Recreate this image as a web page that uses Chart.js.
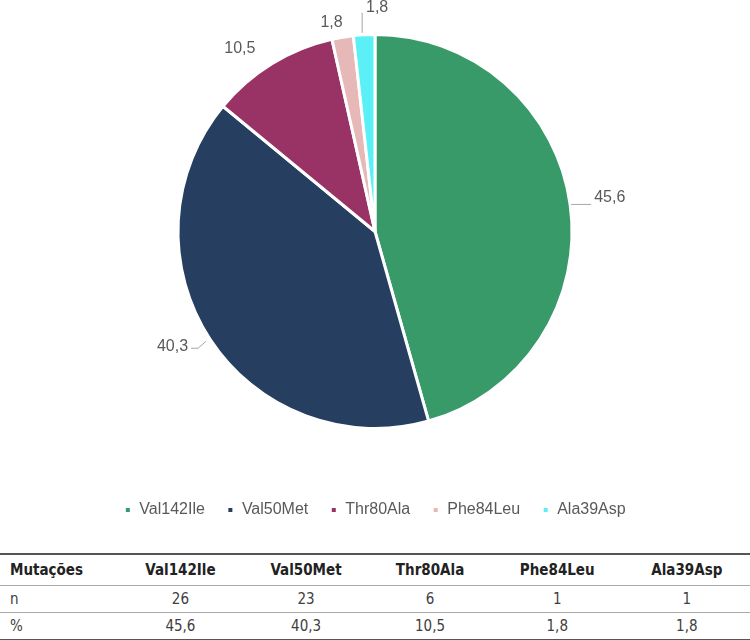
<!DOCTYPE html>
<html>
<head>
<meta charset="utf-8">
<script src="https://cdn.jsdelivr.net/npm/chart.js@4.4.1/dist/chart.umd.min.js"></script>
<style>
    html, body { margin: 0; padding: 0; background: #fff; }
    #wrap { width: 750px; height: 550px; position: relative; }
    table {
        width: 750px;
        border-collapse: collapse;
        margin-top: 3px;
        font-family: "Liberation Sans Narrow", "DejaVu Sans Condensed", "Liberation Sans", sans-serif;
        font-stretch: condensed;
        font-size: 15px;
        color: #404040;
    }
    table tr { border-bottom: 1px solid #aaa; }
    table tr:first-child { border-top: 2px solid #555; }
    table tr:last-child { border-bottom: 2px solid #555; }
    th { font-weight: bold; color: #222; height: 30px; padding: 0; text-align: center; }
    td { height: 26px; padding: 0; text-align: center; }
    th:first-child, td:first-child { text-align: left; padding-left: 10px; width: 108px; }
</style>
</head>
<body>
<div id="wrap"><canvas id="pieChart"></canvas></div>
<table id="dataTable"></table>

<script>
// Andmed
const mutations = ['Val142Ile', 'Val50Met', 'Thr80Ala', 'Phe84Leu', 'Ala39Asp'];
const counts = [26, 23, 6, 1, 1];
const percents = ['45,6', '40,3', '10,5', '1,8', '1,8'];
const sliceColors = ['#389a68', '#263e5f', '#993366', '#e6b9b8', '#5af0f5'];

// Label offsets relative to the slice's outer edge (style only)
const labelStyle = [
    { dx: 24, dy: -7, align: 'left', line: [[1, 0], [21, 0]] },
    { dx: -22, dy: 7, align: 'right', line: [[-4, 2], [-12, 9], [-19, 9]] },
    { dx: -32, dy: -15, align: 'center', line: null },
    { dx: -11, dy: -15, align: 'center', line: null },
    { dx: 13, dy: -27, align: 'center', line: [[-2, -2], [-2, -22]] },
];

// Plugin for outside labels with leader lines
const outsideLabels = {
    id: 'outsideLabels',
    afterDatasetsDraw(chart) {
        const ctx = chart.ctx;
        const meta = chart.getDatasetMeta(0);
        ctx.save();
        ctx.font = '16px "Liberation Sans", Arial, sans-serif';
        ctx.fillStyle = '#595959';
        ctx.strokeStyle = '#a6a6a6';
        ctx.lineWidth = 1;
        meta.data.forEach((arc, i) => {
            const p = arc.getProps(['x', 'y', 'startAngle', 'endAngle', 'outerRadius'], true);
            const mid = (p.startAngle + p.endAngle) / 2;
            const ex = p.x + Math.cos(mid) * p.outerRadius;
            const ey = p.y + Math.sin(mid) * p.outerRadius;
            const s = labelStyle[i];
            if (s.line) {
                ctx.beginPath();
                s.line.forEach((pt, j) => {
                    if (j === 0) ctx.moveTo(ex + pt[0], ey + pt[1]);
                    else ctx.lineTo(ex + pt[0], ey + pt[1]);
                });
                ctx.stroke();
            }
            ctx.textAlign = s.align;
            ctx.textBaseline = 'middle';
            ctx.fillText(percents[i], ex + s.dx, ey + s.dy);
        });
        ctx.restore();
    }
};

const ctx = document.getElementById('pieChart').getContext('2d');
new Chart(ctx, {
    type: 'pie',
    data: {
        labels: mutations,
        datasets: [{
            data: counts,
            backgroundColor: sliceColors,
            borderColor: '#ffffff',
            borderWidth: 3,
            hoverOffset: 0,
        }],
    },
    options: {
        responsive: true,
        maintainAspectRatio: false,
        animation: false,
        layout: { padding: { top: 33, bottom: 22 } },
        plugins: {
            legend: {
                position: 'bottom',
                title: { display: true, text: ' ', font: { size: 10 }, padding: { top: 0, bottom: 38 } },
                labels: {
                    usePointStyle: true,
                    pointStyle: 'rect',
                    boxWidth: 7,
                    boxHeight: 7,
                    padding: 22,
                    color: '#595959',
                    font: { size: 16, family: '"Liberation Sans", Arial, sans-serif' },
                },
            },
            tooltip: { enabled: false },
        },
    },
    plugins: [outsideLabels],
});

// Tabel
const table = document.getElementById('dataTable');
let html = '<tr><th>Mutações</th>' + mutations.map(m => `<th>${m}</th>`).join('') + '</tr>';
html += '<tr><td>n</td>' + counts.map(c => `<td>${c}</td>`).join('') + '</tr>';
html += '<tr><td>%</td>' + percents.map(p => `<td>${p}</td>`).join('') + '</tr>';
table.innerHTML = html;
</script>
</body>
</html>
